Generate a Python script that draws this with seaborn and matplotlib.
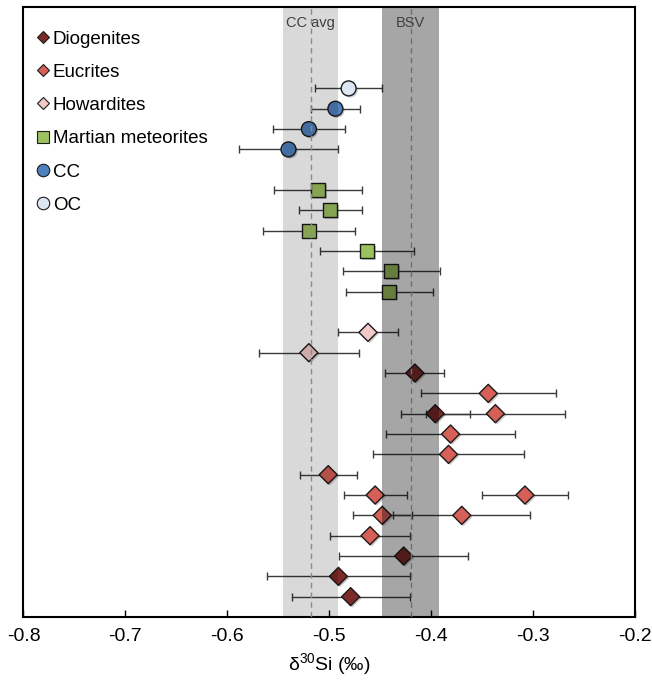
import numpy as np
import pandas as pd
import seaborn as sns
import matplotlib.pyplot as plt
import matplotlib.patheffects as pe
from matplotlib.lines import Line2D

# delta30Si values (permil), 2SE and row position (counted from the bottom)
oc_x = [-0.481]
oc_err = [0.033]
oc_row = [26]

cc_x = [-0.494, -0.520, -0.540]
cc_err = [0.024, 0.035, 0.049]
cc_row = [25, 24, 23]

mars_x = [-0.511, -0.499, -0.520, -0.463, -0.439, -0.441]
mars_err = [0.043, 0.031, 0.045, 0.046, 0.048, 0.043]
mars_row = [21, 20, 19, 18, 17, 16]

how_x = [-0.462, -0.520]
how_err = [0.029, 0.049]
how_row = [14, 13]

dio_x = [-0.416, -0.396, -0.427, -0.491, -0.479]
dio_err = [0.029, 0.034, 0.063, 0.070, 0.058]
dio_row = [12, 10, 3, 2, 1]

euc_x = [-0.344, -0.337, -0.381, -0.383, -0.501, -0.455, -0.308, -0.448, -0.370, -0.460]
euc_err = [0.066, 0.068, 0.063, 0.074, 0.028, 0.031, 0.042, 0.029, 0.067, 0.039]
euc_row = [11, 10, 9, 8, 7, 6, 6, 5, 5, 4]

cc_avg, cc_avg_err = -0.518, 0.027
bsv, bsv_err = -0.420, 0.028

groups = ["Diogenites", "Eucrites", "Howardites", "Martian meteorites", "CC", "OC"]
colors = {"Diogenites": "#7b2a27", "Eucrites": "#d65f57", "Howardites": "#f3c9c8",
          "Martian meteorites": "#9ec160", "CC": "#4f81bd", "OC": "#dde7f3"}
markers = {"Diogenites": "D", "Eucrites": "D", "Howardites": "D",
           "Martian meteorites": "s", "CC": "o", "OC": "o"}
sizes = {"D": 85, "s": 100, "o": 115}

data = pd.concat([
    pd.DataFrame({"x": dio_x, "err": dio_err, "row": dio_row, "group": "Diogenites"}),
    pd.DataFrame({"x": euc_x, "err": euc_err, "row": euc_row, "group": "Eucrites"}),
    pd.DataFrame({"x": how_x, "err": how_err, "row": how_row, "group": "Howardites"}),
    pd.DataFrame({"x": mars_x, "err": mars_err, "row": mars_row, "group": "Martian meteorites"}),
    pd.DataFrame({"x": cc_x, "err": cc_err, "row": cc_row, "group": "CC"}),
    pd.DataFrame({"x": oc_x, "err": oc_err, "row": oc_row, "group": "OC"}),
], ignore_index=True)

sns.set_style("white")
plt.rcParams["font.family"] = ["Liberation Sans", "DejaVu Sans"]
plt.rcParams["mathtext.default"] = "regular"
plt.rcParams["text.color"] = "black"
plt.rcParams["xtick.color"] = "black"
plt.rcParams["axes.labelcolor"] = "black"

fig = plt.figure(figsize=(6.52, 6.8), dpi=100)
ax = fig.add_axes([0.036, 0.0926, 0.938, 0.897])

ax.errorbar(data["x"], data["row"], xerr=data["err"], fmt="none",
            ecolor="#3a3a3a", elinewidth=1, capsize=3, capthick=1, zorder=2)

shadow = [pe.SimplePatchShadow(offset=(1.2, -1.2), alpha=0.25), pe.Normal()]
for g in groups:
    sub = data[data["group"] == g]
    m = markers[g]
    sns.scatterplot(data=sub, x="x", y="row", ax=ax, marker=m, s=sizes[m],
                    color=colors[g], edgecolor="#1a1a1a", linewidth=1,
                    legend=False, zorder=3)
for coll in ax.collections[1:]:
    coll.set_path_effects(shadow)

# reference bands, drawn over the symbols
ax.axvspan(cc_avg - cc_avg_err, cc_avg + cc_avg_err, color="black", alpha=0.15, lw=0, zorder=4)
ax.axvspan(bsv - bsv_err, bsv + bsv_err, color="black", alpha=0.35, lw=0, zorder=4)
ax.axvline(cc_avg, color="#8c8c8c", ls=(0, (4, 3)), lw=1, zorder=5)
ax.axvline(bsv, color="#6e6e6e", ls=(0, (4, 3)), lw=1, zorder=5)
ax.text(cc_avg, 29.2, "CC avg", ha="center", va="center", fontsize=10.5, color="#404040", zorder=6)
ax.text(bsv, 29.2, "BSV", ha="center", va="center", fontsize=10.5, color="#404040", zorder=6)

ax.set_xlim(-0.8, -0.2)
ax.set_ylim(0, 30)
ax.set_xticks(np.arange(-0.8, -0.19, 0.1))
ax.set_xticklabels([f"{v:.1f}" for v in np.arange(-0.8, -0.19, 0.1)])
ax.set_yticks([])
ax.set_ylabel("")
ax.set_xlabel(r"δ$^{30}$Si (‰)", fontsize=14, labelpad=4)
ax.tick_params(axis="x", direction="in", length=5, width=1, labelsize=14, pad=8, bottom=True)
for s in ax.spines.values():
    s.set_color("black")
    s.set_linewidth(1.5)

handle_ms = {"D": 6, "s": 8, "o": 9}
handles = [Line2D([], [], ls="none", marker=markers[g], ms=handle_ms[markers[g]],
                  markerfacecolor=colors[g], markeredgecolor="#1a1a1a", markeredgewidth=0.8)
           for g in groups]
ax.legend(handles, groups, loc="upper left", bbox_to_anchor=(0.008, 0.974), frameon=False,
          fontsize=13.5, handlelength=0.8, handletextpad=0.1, labelspacing=0.86,
          borderaxespad=0.0)

fig.savefig("out.png", dpi=100)
